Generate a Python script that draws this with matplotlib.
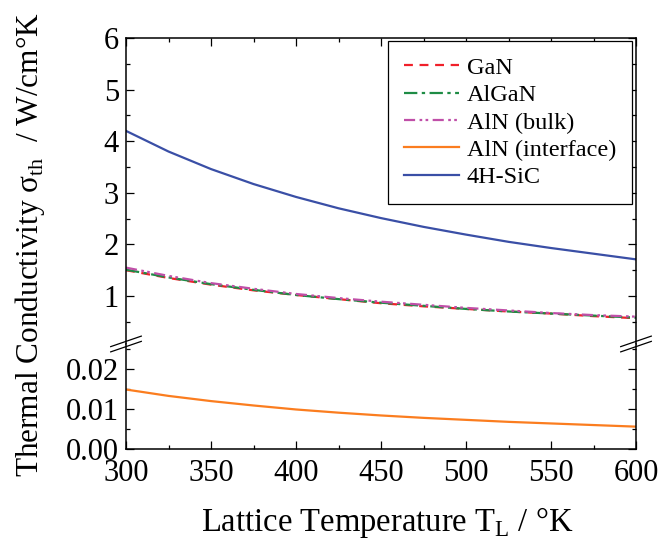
import matplotlib
matplotlib.use('Agg')
import matplotlib.pyplot as plt
from matplotlib.ticker import MultipleLocator
import numpy as np

plt.rcParams['font.family'] = ['Liberation Serif', 'DejaVu Serif']
plt.rcParams['mathtext.fontset'] = 'custom'
plt.rcParams['mathtext.rm'] = 'Liberation Serif'

# 格子温度 (K)
T = [300, 325, 350, 375, 400, 425, 450, 475, 500, 525, 550, 575, 600]
# 热导率 (W/cm K)
gan = [1.50, 1.35, 1.22, 1.11, 1.02, 0.94, 0.86, 0.80, 0.75, 0.70, 0.66, 0.61, 0.57]
algan = [1.51, 1.36, 1.23, 1.12, 1.02, 0.94, 0.87, 0.81, 0.75, 0.70, 0.66, 0.62, 0.58]
aln_bulk = [1.55, 1.39, 1.25, 1.14, 1.04, 0.96, 0.89, 0.83, 0.77, 0.72, 0.67, 0.63, 0.60]
aln_interface = [0.0149, 0.0133, 0.0120, 0.0109, 0.0099, 0.0091, 0.0084, 0.0078, 0.0073, 0.0068, 0.0064, 0.0060, 0.0056]
sic = [4.20, 3.80, 3.46, 3.17, 2.92, 2.70, 2.51, 2.34, 2.19, 2.05, 1.93, 1.82, 1.71]

W, H = 662, 554
fig = plt.figure(figsize=(W / 100, H / 100), dpi=100)
L, R = 126 / W, 636 / W
y_top, y_brk, y_bot = 38, 344, 449
ax1 = fig.add_axes([L, 1 - y_brk / H, R - L, (y_brk - y_top) / H])
ax2 = fig.add_axes([L, 1 - y_bot / H, R - L, (y_bot - y_brk) / H], sharex=ax1)

lw = 1.6
l1, = ax1.plot(T, gan, color='#f0202a', lw=lw, ls=(0, (4, 3)), label='GaN')
l2, = ax1.plot(T, algan, color='#1e8c45', lw=lw, ls=(0, (6, 2, 1.5, 2)), label='AlGaN')
l3, = ax1.plot(T, aln_bulk, color='#c04fa8', lw=lw, ls=(0, (5, 2, 1.2, 1.5, 1.2, 2)), label='AlN (bulk)')
l5, = ax1.plot(T, sic, color='#3a4fa6', lw=lw, label='4H-SiC')
l4, = ax2.plot(T, aln_interface, color='#fb7d1f', lw=lw, label='AlN (interface)')

ax1.set_xlim(300, 600)
ax1.set_ylim(0.07, 6)
ax2.set_ylim(0, 0.0263)

ax1.yaxis.set_major_locator(MultipleLocator(1))
ax1.yaxis.set_minor_locator(MultipleLocator(0.5))
ax2.yaxis.set_major_locator(MultipleLocator(0.01))
ax2.yaxis.set_minor_locator(MultipleLocator(0.005))
ax2.xaxis.set_major_locator(MultipleLocator(50))
ax2.xaxis.set_minor_locator(MultipleLocator(25))
ax2.yaxis.set_major_formatter(matplotlib.ticker.FormatStrFormatter('%.2f'))

for ax in (ax1, ax2):
    for s in ax.spines.values():
        s.set_linewidth(1.1)
    ax.tick_params(which='both', direction='in', labelsize=22, width=0.9, pad=5)
    ax.tick_params(which='major', length=5.5)
    ax.tick_params(which='minor', length=3)

ax1.spines['bottom'].set_visible(False)
ax2.spines['top'].set_visible(False)
ax1.tick_params(which='both', top=True, bottom=False, labelbottom=False, right=True)
ax2.tick_params(which='both', top=False, bottom=True, right=True)
ax2.tick_params(axis='x', pad=7)

# 断轴标记
d = 0.03
for x0 in (0, 1):
    for dy in (-0.025, 0.025):
        ax2.plot([x0 - d, x0 + d], [1 + dy - 0.05, 1 + dy + 0.05], color='k', lw=0.9,
                 transform=ax2.transAxes, clip_on=False)

ax1.legend(handles=[l1, l2, l3, l4, l5], loc='upper right', bbox_to_anchor=(0.992, 0.99),
           borderaxespad=0, fontsize=17.5, handlelength=2.3, handletextpad=0.3,
           labelspacing=0.22, borderpad=0.65, fancybox=False, framealpha=1,
           edgecolor='k').get_frame().set_linewidth(0.9)

fig.text(30 / W, 1 - 245 / H,
         r'Thermal Conductivity σ$_{\mathrm{th}}$  / W/cm°K',
         rotation=90, ha='center', va='center', fontsize=22.5)
fig.text((L + R) / 2 + 0.01, 1 - 522 / H, r'Lattice Temperature T$_{\mathrm{L}}$ / °K',
         ha='center', va='center', fontsize=23.5)

fig.savefig('out.png', dpi=100)
